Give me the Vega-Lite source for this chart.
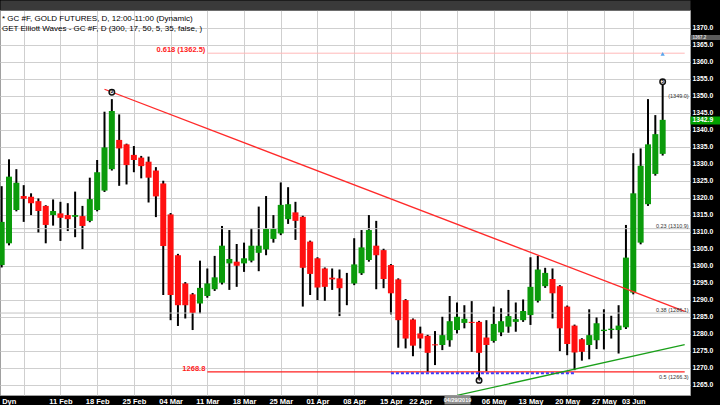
{
  "$schema": "https://vega.github.io/schema/vega-lite/v6.json",
  "width": 690,
  "height": 385,
  "autosize": {"type": "none"},
  "padding": {"left": 0, "top": 10, "right": 30, "bottom": 10},
  "background": "black",
  "config": {"view": {"fill": "white", "stroke": "#a0a0a0"}, "font": "Liberation Sans"},
  "title": {
    "text": ["* GC #F, GOLD FUTURES, D, 12:00-11:00 (Dynamic)", "GET Elliott Waves - GC #F, D (300, 17, 50, 5, 35, false, )"],
    "anchor": "start", "frame": "group", "orient": "top", "baseline": "top",
    "offset": 0, "dx": 2, "dy": 28, "fontSize": 8, "fontWeight": "normal",
    "font": "Liberation Sans", "color": "black", "lineHeight": 9.7
  },
  "resolve": {"axis": {"x": "independent"}},
  "datasets": {
    "candles": [
      {"d": "2019-01-30", "o": 1300.2, "h": 1323.4, "l": 1299.5, "c": 1312.9},
      {"d": "2019-01-31", "o": 1306.6, "h": 1331.3, "l": 1306.0, "c": 1326.2},
      {"d": "2019-02-01", "o": 1316.4, "h": 1328.4, "l": 1316.0, "c": 1324.4},
      {"d": "2019-02-04", "o": 1320.5, "h": 1323.7, "l": 1312.9, "c": 1319.7},
      {"d": "2019-02-05", "o": 1320.3, "h": 1321.3, "l": 1314.9, "c": 1318.4},
      {"d": "2019-02-06", "o": 1319.0, "h": 1319.8, "l": 1309.8, "c": 1316.1},
      {"d": "2019-02-07", "o": 1317.6, "h": 1317.8, "l": 1306.6, "c": 1312.0},
      {"d": "2019-02-08", "o": 1314.9, "h": 1319.5, "l": 1311.8, "c": 1316.1},
      {"d": "2019-02-11", "o": 1315.4, "h": 1318.8, "l": 1307.3, "c": 1314.1},
      {"d": "2019-02-12", "o": 1314.9, "h": 1318.4, "l": 1310.2, "c": 1313.7},
      {"d": "2019-02-13", "o": 1314.4, "h": 1321.8, "l": 1308.4, "c": 1314.9},
      {"d": "2019-02-14", "o": 1314.6, "h": 1317.6, "l": 1304.9, "c": 1311.7},
      {"d": "2019-02-15", "o": 1313.2, "h": 1325.9, "l": 1312.8, "c": 1319.6},
      {"d": "2019-02-18", "o": 1316.4, "h": 1331.1, "l": 1316.0, "c": 1327.5},
      {"d": "2019-02-19", "o": 1322.1, "h": 1345.3, "l": 1321.7, "c": 1334.8},
      {"d": "2019-02-20", "o": 1328.4, "h": 1349.0, "l": 1328.0, "c": 1345.5},
      {"d": "2019-02-21", "o": 1337.0, "h": 1344.5, "l": 1323.5, "c": 1334.5},
      {"d": "2019-02-22", "o": 1335.7, "h": 1335.9, "l": 1323.9, "c": 1329.6},
      {"d": "2019-02-25", "o": 1332.6, "h": 1335.2, "l": 1327.5, "c": 1331.1},
      {"d": "2019-02-26", "o": 1331.8, "h": 1332.3, "l": 1325.7, "c": 1329.3},
      {"d": "2019-02-27", "o": 1330.6, "h": 1332.1, "l": 1318.6, "c": 1325.9},
      {"d": "2019-02-28", "o": 1328.0, "h": 1329.0, "l": 1314.3, "c": 1320.4},
      {"d": "2019-03-01", "o": 1324.2, "h": 1325.0, "l": 1291.4, "c": 1305.8},
      {"d": "2019-03-04", "o": 1315.1, "h": 1315.5, "l": 1284.0, "c": 1291.4},
      {"d": "2019-03-05", "o": 1303.1, "h": 1303.5, "l": 1282.3, "c": 1288.4},
      {"d": "2019-03-06", "o": 1294.8, "h": 1295.2, "l": 1284.5, "c": 1288.4},
      {"d": "2019-03-07", "o": 1291.6, "h": 1292.0, "l": 1281.1, "c": 1286.2},
      {"d": "2019-03-08", "o": 1288.9, "h": 1301.5, "l": 1286.0, "c": 1293.5},
      {"d": "2019-03-11", "o": 1291.1, "h": 1299.2, "l": 1290.6, "c": 1294.8},
      {"d": "2019-03-12", "o": 1293.1, "h": 1302.9, "l": 1292.6, "c": 1296.6},
      {"d": "2019-03-13", "o": 1295.0, "h": 1311.7, "l": 1294.5, "c": 1305.9},
      {"d": "2019-03-14", "o": 1300.7, "h": 1310.5, "l": 1292.9, "c": 1302.0},
      {"d": "2019-03-15", "o": 1301.2, "h": 1306.4, "l": 1293.8, "c": 1300.0},
      {"d": "2019-03-18", "o": 1300.7, "h": 1306.8, "l": 1298.2, "c": 1302.2},
      {"d": "2019-03-19", "o": 1301.5, "h": 1311.0, "l": 1301.0, "c": 1305.9},
      {"d": "2019-03-20", "o": 1303.8, "h": 1317.4, "l": 1298.4, "c": 1305.9},
      {"d": "2019-03-21", "o": 1304.8, "h": 1320.5, "l": 1303.1, "c": 1310.8},
      {"d": "2019-03-22", "o": 1307.9, "h": 1314.9, "l": 1306.8, "c": 1310.8},
      {"d": "2019-03-25", "o": 1309.5, "h": 1324.5, "l": 1309.0, "c": 1317.9},
      {"d": "2019-03-26", "o": 1313.7, "h": 1323.1, "l": 1312.3, "c": 1318.1},
      {"d": "2019-03-27", "o": 1315.7, "h": 1318.8, "l": 1307.6, "c": 1313.2},
      {"d": "2019-03-28", "o": 1314.4, "h": 1314.7, "l": 1288.0, "c": 1299.4},
      {"d": "2019-03-29", "o": 1307.1, "h": 1307.4, "l": 1291.4, "c": 1297.6},
      {"d": "2019-04-01", "o": 1302.2, "h": 1302.5, "l": 1289.9, "c": 1293.6},
      {"d": "2019-04-02", "o": 1299.2, "h": 1299.5, "l": 1289.7, "c": 1293.8},
      {"d": "2019-04-03", "o": 1296.5, "h": 1299.2, "l": 1292.9, "c": 1296.0},
      {"d": "2019-04-04", "o": 1296.3, "h": 1298.9, "l": 1285.2, "c": 1293.4},
      {"d": "2019-04-05", "o": 1294.8, "h": 1297.9, "l": 1288.4, "c": 1294.8},
      {"d": "2019-04-08", "o": 1294.8, "h": 1308.1, "l": 1294.3, "c": 1300.4},
      {"d": "2019-04-09", "o": 1297.8, "h": 1310.5, "l": 1297.3, "c": 1305.4},
      {"d": "2019-04-10", "o": 1301.7, "h": 1314.9, "l": 1301.2, "c": 1310.5},
      {"d": "2019-04-11", "o": 1305.9, "h": 1313.2, "l": 1293.1, "c": 1303.1},
      {"d": "2019-04-12", "o": 1304.6, "h": 1305.0, "l": 1293.4, "c": 1296.1},
      {"d": "2019-04-15", "o": 1300.2, "h": 1300.5, "l": 1285.7, "c": 1291.9},
      {"d": "2019-04-16", "o": 1296.0, "h": 1296.3, "l": 1275.9, "c": 1284.0},
      {"d": "2019-04-17", "o": 1289.9, "h": 1290.2, "l": 1275.7, "c": 1278.6},
      {"d": "2019-04-18", "o": 1284.2, "h": 1284.5, "l": 1273.4, "c": 1276.5},
      {"d": "2019-04-22", "o": 1280.1, "h": 1282.1, "l": 1275.7, "c": 1278.6},
      {"d": "2019-04-23", "o": 1279.4, "h": 1279.7, "l": 1268.8, "c": 1274.4},
      {"d": "2019-04-24", "o": 1276.9, "h": 1280.8, "l": 1270.8, "c": 1276.6},
      {"d": "2019-04-25", "o": 1276.7, "h": 1285.0, "l": 1275.2, "c": 1279.6},
      {"d": "2019-04-26", "o": 1278.1, "h": 1291.1, "l": 1276.2, "c": 1283.7},
      {"d": "2019-04-29", "o": 1281.1, "h": 1289.2, "l": 1280.1, "c": 1285.0},
      {"d": "2019-04-30", "o": 1283.2, "h": 1288.4, "l": 1281.6, "c": 1284.4},
      {"d": "2019-05-01", "o": 1283.5, "h": 1289.6, "l": 1274.7, "c": 1283.2},
      {"d": "2019-05-02", "o": 1283.5, "h": 1283.8, "l": 1266.3, "c": 1274.4},
      {"d": "2019-05-03", "o": 1278.9, "h": 1284.0, "l": 1269.0, "c": 1276.7},
      {"d": "2019-05-06", "o": 1277.9, "h": 1288.0, "l": 1277.4, "c": 1282.9},
      {"d": "2019-05-07", "o": 1280.4, "h": 1287.5, "l": 1279.3, "c": 1283.7},
      {"d": "2019-05-08", "o": 1282.1, "h": 1292.9, "l": 1280.3, "c": 1285.2},
      {"d": "2019-05-09", "o": 1283.5, "h": 1289.2, "l": 1280.6, "c": 1284.3},
      {"d": "2019-05-10", "o": 1284.0, "h": 1290.1, "l": 1283.5, "c": 1286.7},
      {"d": "2019-05-13", "o": 1285.5, "h": 1302.5, "l": 1282.6, "c": 1293.8},
      {"d": "2019-05-14", "o": 1289.7, "h": 1302.9, "l": 1289.2, "c": 1298.9},
      {"d": "2019-05-15", "o": 1294.0, "h": 1299.4, "l": 1293.5, "c": 1297.9},
      {"d": "2019-05-16", "o": 1296.1, "h": 1299.2, "l": 1284.5, "c": 1291.9},
      {"d": "2019-05-17", "o": 1294.0, "h": 1294.3, "l": 1274.9, "c": 1281.6},
      {"d": "2019-05-20", "o": 1288.0, "h": 1288.3, "l": 1273.7, "c": 1277.0},
      {"d": "2019-05-21", "o": 1282.4, "h": 1282.7, "l": 1269.3, "c": 1274.5},
      {"d": "2019-05-22", "o": 1278.4, "h": 1278.7, "l": 1272.1, "c": 1274.7},
      {"d": "2019-05-23", "o": 1276.7, "h": 1287.2, "l": 1272.5, "c": 1279.6},
      {"d": "2019-05-24", "o": 1278.1, "h": 1284.8, "l": 1275.5, "c": 1283.1},
      {"d": "2019-05-28", "o": 1280.8, "h": 1287.2, "l": 1275.4, "c": 1281.2},
      {"d": "2019-05-29", "o": 1281.1, "h": 1285.3, "l": 1278.6, "c": 1281.5},
      {"d": "2019-05-30", "o": 1281.1, "h": 1288.4, "l": 1274.2, "c": 1282.4},
      {"d": "2019-05-31", "o": 1281.9, "h": 1312.0, "l": 1281.4, "c": 1302.4},
      {"d": "2019-06-03", "o": 1292.1, "h": 1333.1, "l": 1291.6, "c": 1321.3},
      {"d": "2019-06-04", "o": 1306.8, "h": 1334.5, "l": 1306.3, "c": 1329.4},
      {"d": "2019-06-05", "o": 1318.1, "h": 1349.0, "l": 1317.6, "c": 1335.7},
      {"d": "2019-06-06", "o": 1327.0, "h": 1344.3, "l": 1326.5, "c": 1338.7},
      {"d": "2019-06-07", "o": 1332.9, "h": 1353.6, "l": 1332.4, "c": 1342.9}
    ]
  },
  "layer": [
    {
      "data": {"values": [{"d": "2019-06-12"}]},
      "mark": {"type": "rule", "opacity": 0},
      "encoding": {
        "x": {"field": "d", "type": "ordinal",
          "axis": {"orient": "top", "offset": 5, "domain": true, "domainColor": "#3a3a3a", "domainWidth": 10, "ticks": false, "labels": false, "grid": false, "title": null}}
      }
    },
    {
      "data": {"name": "candles"},
      "mark": {"type": "rule", "color": "black", "strokeWidth": 2},
      "encoding": {
        "x": {"field": "d", "type": "ordinal",
          "scale": {"type": "point", "padding": 0.475, "align": 0.24,
            "domain": ["2019-01-30","2019-01-31","2019-02-01","2019-02-04","2019-02-05","2019-02-06","2019-02-07","2019-02-08","2019-02-11","2019-02-12","2019-02-13","2019-02-14","2019-02-15","2019-02-18","2019-02-19","2019-02-20","2019-02-21","2019-02-22","2019-02-25","2019-02-26","2019-02-27","2019-02-28","2019-03-01","2019-03-04","2019-03-05","2019-03-06","2019-03-07","2019-03-08","2019-03-11","2019-03-12","2019-03-13","2019-03-14","2019-03-15","2019-03-18","2019-03-19","2019-03-20","2019-03-21","2019-03-22","2019-03-25","2019-03-26","2019-03-27","2019-03-28","2019-03-29","2019-04-01","2019-04-02","2019-04-03","2019-04-04","2019-04-05","2019-04-08","2019-04-09","2019-04-10","2019-04-11","2019-04-12","2019-04-15","2019-04-16","2019-04-17","2019-04-18","2019-04-22","2019-04-23","2019-04-24","2019-04-25","2019-04-26","2019-04-29","2019-04-30","2019-05-01","2019-05-02","2019-05-03","2019-05-06","2019-05-07","2019-05-08","2019-05-09","2019-05-10","2019-05-13","2019-05-14","2019-05-15","2019-05-16","2019-05-17","2019-05-20","2019-05-21","2019-05-22","2019-05-23","2019-05-24","2019-05-28","2019-05-29","2019-05-30","2019-05-31","2019-06-03","2019-06-04","2019-06-05","2019-06-06","2019-06-07","2019-06-10","2019-06-11","2019-06-12"]},
          "axis": {
            "orient": "bottom",
            "values": ["2019-01-30","2019-02-04","2019-02-11","2019-02-18","2019-02-25","2019-03-04","2019-03-11","2019-03-18","2019-03-25","2019-04-01","2019-04-08","2019-04-15","2019-04-22","2019-04-29","2019-05-06","2019-05-13","2019-05-20","2019-05-28","2019-06-03"],
            "labelExpr": "datum.value == '2019-01-30' ? 'Dyn' : datum.value == '2019-02-04' ? '' : datum.value == '2019-05-28' ? '27 May' : datum.value == '2019-04-29' ? '04/29/2019' : utcFormat(toDate(datum.value), '%d %b')",
            "labelColor": "white",
            "labelFont": "Liberation Sans",
            "labelFontWeight": "bold",
            "labelFontSize": {"condition": {"test": "datum.value == '2019-04-29'", "value": 5.5}, "value": 7.5},
            "labelAngle": 0,
            "labelBaseline": "top",
            "labelPadding": -7,
            "labelAlign": {"condition": {"test": "datum.value == '2019-01-30'", "value": "left"}, "value": "center"},
            "labelOverlap": false,
            "ticks": true,
            "tickSize": 9,
            "tickColor": {"condition": {"test": "datum.value == '2019-04-29'", "value": "#8c8c8c"}, "value": "transparent"},
            "tickWidth": {"condition": {"test": "datum.value == '2019-04-29'", "value": 26}, "value": 1},
            "domain": false,
            "grid": true,
            "gridColor": {"condition": {"test": "datum.value == '2019-01-30'", "value": "transparent"}, "value": "#cfcfcf"},
            "title": null
          }
        },
        "y": {"field": "l", "type": "quantitative",
          "scale": {"domain": [1262, 1375.2], "zero": false, "nice": false},
          "axis": {
            "orient": "right",
            "values": [1265,1270,1275,1280,1285,1290,1295,1300,1305,1310,1315,1320,1325,1330,1335,1340,1342.9,1345,1350,1355,1360,1365,1367.2,1370],
            "tickCount": 100,
            "format": ".1f",
            "labelColor": {"condition": {"test": "datum.value == 1367.2", "value": "#dddddd"}, "value": "white"},
            "labelFontSize": {"condition": {"test": "datum.value == 1367.2", "value": 4.5}, "value": 6.8},
            "labelFontWeight": "bold",
            "labelFont": "Liberation Sans",
            "labelBaseline": "middle",
            "labelAlign": "left",
            "labelPadding": -28,
            "labelOverlap": false,
            "tickSize": 30,
            "tickColor": {"condition": [{"test": "datum.value == 1342.9", "value": "#00a000"}, {"test": "datum.value == 1367.2", "value": "#5a5a5a"}], "value": "transparent"},
            "tickWidth": {"condition": [{"test": "datum.value == 1342.9", "value": 8}, {"test": "datum.value == 1367.2", "value": 5}], "value": 1},
            "domain": false,
            "grid": true,
            "gridColor": {"condition": {"test": "datum.value == 1342.9 || datum.value == 1367.2", "value": "transparent"}, "value": "#cfcfcf"},
            "title": null
          }
        },
        "y2": {"field": "h"}
      }
    },
    {
      "data": {"values": [{"p": 1310.9}, {"p": 1286.1}]},
      "mark": {"type": "rule", "color": "#c4c4c4", "strokeWidth": 1},
      "encoding": {"y": {"field": "p", "type": "quantitative"}}
    },
    {
      "data": {"name": "candles"},
      "mark": {"type": "bar", "width": 6},
      "encoding": {
        "x": {"field": "d", "type": "ordinal", "axis": null},
        "y": {"field": "o", "type": "quantitative"},
        "y2": {"field": "c"},
        "color": {"condition": {"test": "datum.c >= datum.o", "value": "#0b9b0b"}, "value": "#ff1010"}
      }
    },
    {
      "mark": {"type": "rule", "color": "#1c1c5c", "strokeWidth": 1.6},
      "encoding": {"y": {"datum": 1349.0, "type": "quantitative"}}
    },
    {
      "mark": {"type": "rule", "color": "#505050", "strokeWidth": 1.5, "strokeDash": [8, 4]},
      "encoding": {"y": {"datum": 1266.3, "type": "quantitative"}}
    },
    {
      "data": {"values": [{"d": "2019-03-11", "p": 1362.5}, {"d": "2019-06-12", "p": 1362.5}]},
      "mark": {"type": "line", "color": "#ffb8b8", "strokeWidth": 1},
      "encoding": {"x": {"field": "d", "type": "ordinal", "axis": null}, "y": {"field": "p", "type": "quantitative"}}
    },
    {
      "data": {"values": [{"d": "2019-03-11", "p": 1268.8}, {"d": "2019-06-12", "p": 1268.8}]},
      "mark": {"type": "line", "color": "#ff2020", "strokeWidth": 1.3},
      "encoding": {"x": {"field": "d", "type": "ordinal", "axis": null}, "y": {"field": "p", "type": "quantitative"}}
    },
    {
      "data": {"values": [{"d": "2019-04-15", "p": 1268.4}, {"d": "2019-05-21", "p": 1268.4}]},
      "mark": {"type": "line", "color": "#3a3aff", "strokeWidth": 2, "strokeDash": [3, 2]},
      "encoding": {"x": {"field": "d", "type": "ordinal", "axis": null}, "y": {"field": "p", "type": "quantitative"}}
    },
    {
      "data": {"values": [{"d": "2019-02-19", "p": 1351.9}, {"d": "2019-06-12", "p": 1286.6}]},
      "mark": {"type": "line", "color": "#ff2a2a", "strokeWidth": 1.3},
      "encoding": {"x": {"field": "d", "type": "ordinal", "axis": null}, "y": {"field": "p", "type": "quantitative"}}
    },
    {
      "data": {"values": [{"d": "2019-04-29", "p": 1261.9}, {"d": "2019-06-12", "p": 1276.8}]},
      "mark": {"type": "line", "color": "#1aa01a", "strokeWidth": 1.3, "clip": true},
      "encoding": {"x": {"field": "d", "type": "ordinal", "axis": null}, "y": {"field": "p", "type": "quantitative"}}
    },
    {
      "data": {"values": [{"d": "2019-02-20", "p": 1351.0, "t": "3"}, {"d": "2019-05-02", "p": 1266.3, "t": "4"}, {"d": "2019-06-07", "p": 1354.1, "t": "5"}]},
      "mark": {"type": "point", "shape": "circle", "size": 30, "filled": true, "fill": "#eeeeee", "stroke": "#111111", "strokeWidth": 1.5, "opacity": 1},
      "encoding": {"x": {"field": "d", "type": "ordinal", "axis": null}, "y": {"field": "p", "type": "quantitative"}}
    },
    {
      "data": {"values": [{"d": "2019-02-20", "p": 1351.0, "t": "3"}, {"d": "2019-05-02", "p": 1266.3, "t": "4"}, {"d": "2019-06-07", "p": 1354.1, "t": "5"}]},
      "mark": {"type": "text", "fontSize": 4.5, "fontWeight": "bold", "color": "black", "baseline": "middle", "align": "center"},
      "encoding": {"x": {"field": "d", "type": "ordinal", "axis": null}, "y": {"field": "p", "type": "quantitative"}, "text": {"field": "t"}}
    },
    {
      "data": {"values": [{"d": "2019-06-07", "p": 1362.3}]},
      "mark": {"type": "point", "shape": "triangle-up", "size": 18, "filled": true, "color": "#5aa5ee", "opacity": 1},
      "encoding": {"x": {"field": "d", "type": "ordinal", "axis": null}, "y": {"field": "p", "type": "quantitative"}}
    },
    {
      "data": {"values": [{"d": "2019-03-11", "p": 1362.5, "t": "0.618 (1362.5)"}, {"d": "2019-03-11", "p": 1268.8, "t": "1268.8"}]},
      "mark": {"type": "text", "fontSize": 7.5, "fontWeight": "bold", "color": "#ff2020", "align": "right", "baseline": "alphabetic", "dx": -2, "dy": -1},
      "encoding": {"x": {"field": "d", "type": "ordinal", "axis": null}, "y": {"field": "p", "type": "quantitative"}, "text": {"field": "t"}}
    },
    {
      "data": {"values": [{"d": "2019-06-12", "p": 1349.0, "t": "(1349.0)"}, {"d": "2019-06-12", "p": 1310.9, "t": "0.23 (1310.9)"}, {"d": "2019-06-12", "p": 1286.1, "t": "0.38 (1286.1)"}, {"d": "2019-06-12", "p": 1266.3, "t": "0.5 (1266.3)"}]},
      "mark": {"type": "text", "fontSize": 5.5, "color": "#333333", "align": "right", "baseline": "middle", "dx": 4, "dy": -3},
      "encoding": {"x": {"field": "d", "type": "ordinal", "axis": null}, "y": {"field": "p", "type": "quantitative"}, "text": {"field": "t"}}
    }
  ]
}
